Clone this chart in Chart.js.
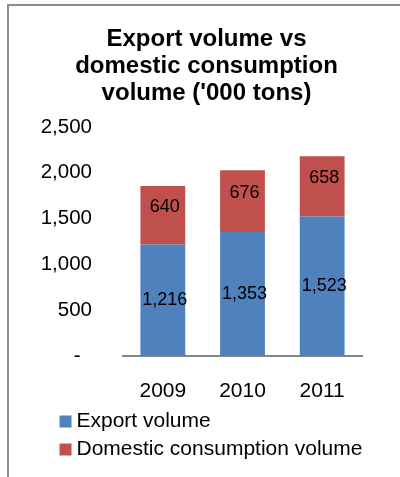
<!DOCTYPE html>
<html>
<head>
<meta charset="utf-8">
<script src="https://cdn.jsdelivr.net/npm/chart.js@4/dist/chart.umd.min.js"></script>
<style>
  html, body { margin: 0; padding: 0; background: #fff; }
  #frame {
    position: absolute; left: 7px; top: 4px; width: 393px; height: 473px;
    border-top: 2px solid #8c8c8c; border-left: 2px solid #8c8c8c;
  }
  #wrap { position: absolute; left: 0; top: 0; width: 391px; height: 471px; }
</style>
</head>
<body>
<div id="frame"><div id="wrap"><canvas id="myChart"></canvas></div></div>
<script>
// datos
var titulo = ['Export volume vs', 'domestic consumption', "volume ('000 tons)"];
var anios = ['2009', '2010', '2011'];
var export_volume = [1216, 1353, 1523];
var domestic_volume = [640, 676, 658];
var y_max = 2500;
var y_paso = 500;

var fuente = 'Liberation Sans, Arial, sans-serif';

// ajustes de posicion + etiquetas dentro de las barras
var etiquetas_barras = {
  id: 'etiquetas_barras',
  afterLayout: function (chart) {
    // leyenda y titulo un poco a la derecha, como en el original
    chart.legend.left += 19;
    chart.legend.right += 19;
    chart.titleBlock.left += 6;
    chart.titleBlock.right += 6;
  },
  afterDatasetsDraw: function (chart) {
    var ctx = chart.ctx;
    ctx.save();
    ctx.font = '18px ' + fuente;
    ctx.fillStyle = '#000';
    ctx.textAlign = 'center';
    ctx.textBaseline = 'middle';
    chart.data.datasets.forEach(function (ds, i) {
      var meta = chart.getDatasetMeta(i);
      var dy = i === 1 ? -8 : 0;
      meta.data.forEach(function (bar, j) {
        var c = bar.getCenterPoint();
        ctx.fillText(ds.data[j].toLocaleString('en-US'), c.x + 2, c.y + dy);
      });
    });
    ctx.restore();
  }
};

var chart_bar = new Chart(document.getElementById('myChart'), {
  type: 'bar',
  data: {
    labels: anios,
    datasets: [
      { label: 'Export volume', data: export_volume, backgroundColor: '#4F81BD', borderWidth: 0 },
      { label: 'Domestic consumption volume', data: domestic_volume, backgroundColor: '#C0504D', borderWidth: 0 }
    ]
  },
  options: {
    responsive: true,
    maintainAspectRatio: false,
    animation: false,
    layout: { padding: { left: 30, right: 38, top: 0, bottom: 7 } },
    datasets: { bar: { barPercentage: 0.5625, categoryPercentage: 1 } },
    scales: {
      x: {
        stacked: true,
        grid: { display: false, drawTicks: false },
        border: { display: true, color: '#868686', width: 2 },
        afterFit: function (scale) { scale.height = 48; },
        ticks: { color: '#000', padding: 23, font: { family: fuente, size: 21 } }
      },
      y: {
        stacked: true,
        min: 0, max: y_max,
        grid: { display: false, drawTicks: false },
        border: { display: false },
        afterFit: function (scale) { scale.width = 84; },
        ticks: {
          stepSize: y_paso,
          color: '#000',
          padding: 31,
          font: { family: fuente, size: 20.5 },
          callback: function (v) { return v === 0 ? '-  ' : v.toLocaleString('en-US'); }
        }
      }
    },
    plugins: {
      title: {
        display: true,
        text: titulo,
        color: '#000',
        font: { family: fuente, size: 24, weight: 'bold', lineHeight: 1.125 },
        padding: { top: 20, bottom: 20 }
      },
      legend: {
        position: 'bottom',
        align: 'start',
        labels: {
          color: '#000',
          usePointStyle: true,
          pointStyle: 'rect',
          boxWidth: 1,
          boxHeight: 12,
          padding: 7,
          font: { family: fuente, size: 21 }
        }
      },
      tooltip: { enabled: false }
    }
  },
  plugins: [etiquetas_barras]
});
</script>
</body>
</html>
